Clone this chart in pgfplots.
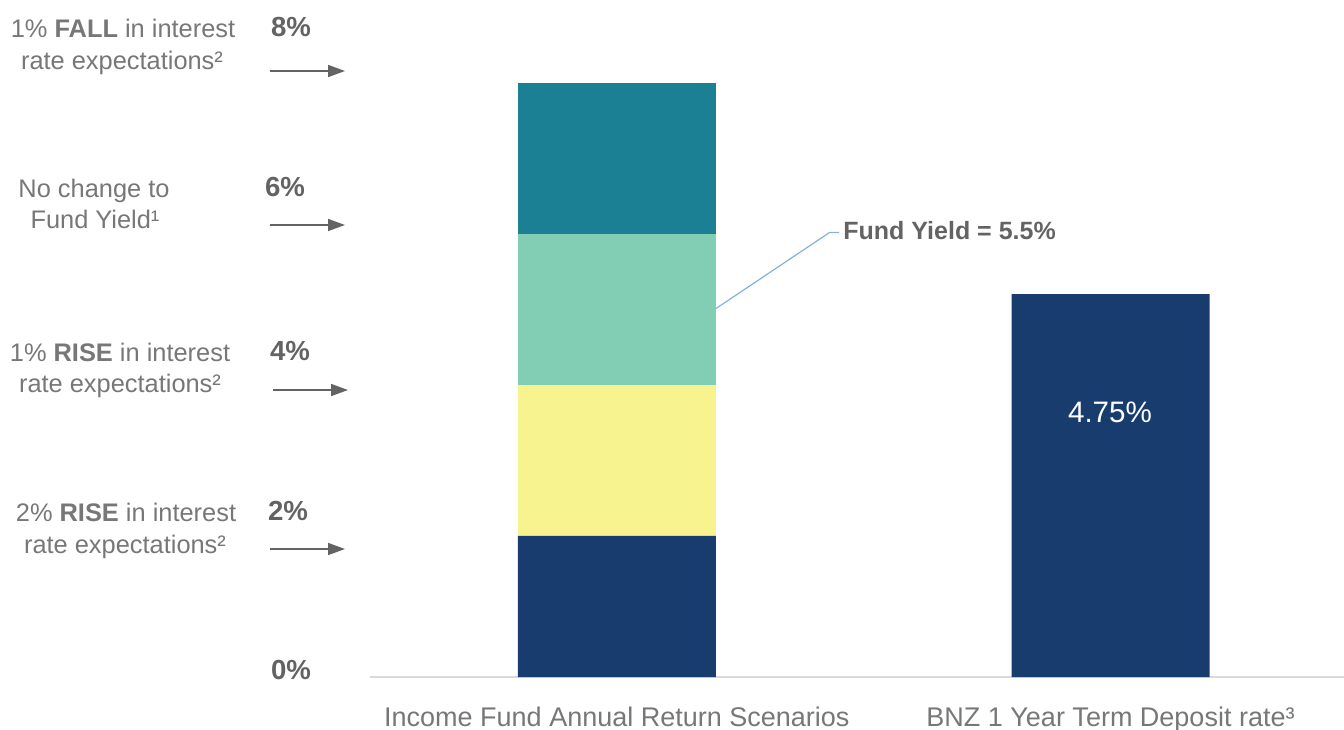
\documentclass[border=0pt]{standalone}
\usepackage{fontspec}
\setmainfont{Liberation Sans}
\usepackage{pgfplots}
\pgfplotsset{compat=1.18}
\usetikzlibrary{arrows.meta}
\definecolor{navy}{HTML}{173C6D}
\definecolor{yel}{HTML}{F7F38F}
\definecolor{mint}{HTML}{82CEB5}
\definecolor{teal2}{HTML}{1B8094}
\definecolor{txt}{HTML}{777777}
\definecolor{pct}{HTML}{636363}
\definecolor{leader}{HTML}{86B0DE}
\newcommand{\lbl}{\fontsize{12.7}{16}\selectfont}
\newcommand{\pctf}{\fontsize{13.8}{16}\selectfont\bfseries}
\begin{document}
\begin{tikzpicture}
\path[use as bounding box] (0,0) rectangle (672pt,-364.5pt);
\begin{axis}[
 at={(185pt,-338.5pt)}, anchor=south west,
 scale only axis, width=487pt, height=338.5pt,
 xmin=-0.5, xmax=1.473, ymin=0, ymax=8.4,
 ybar stacked, bar width=99pt,
 axis y line=none, axis x line*=bottom,
 x axis line style={draw=black!15, line width=1pt},
 xtick={0,1},
 xticklabels={Income Fund Annual Return Scenarios, BNZ 1 Year Term Deposit rate³},
 major tick length=0pt,
 xticklabel style={anchor=base, yshift=-24.5pt, font=\fontsize{13.5}{16}\selectfont, text=txt},
 ytick=\empty,
 clip=false,
]
\addplot[fill=navy, draw=none] coordinates {(0,1.75) (1,4.75)};
\addplot[fill=yel, draw=none] coordinates {(0,1.875) (1,0)};
\addplot[fill=mint, draw=none] coordinates {(0,1.875) (1,0)};
\addplot[fill=teal2, draw=none] coordinates {(0,1.875) (1,0)};
\end{axis}
\begin{scope}[x=0.5pt,y=-0.5pt, every node/.style={inner sep=0pt}]
% block 1
\node[anchor=base, text=txt, font=\lbl] at (123,37.7) {1\% \textbf{FALL} in interest};
\node[anchor=base, text=txt, font=\lbl] at (122,69.3) {rate expectations²};
\node[anchor=base, text=pct, font=\pctf] at (291,36.7) {8\%};
\draw[pct, line width=0.8pt, -{Triangle[length=8.5pt,width=6pt]}] (270,71) -- (345,71);
% block 2
\node[anchor=base, text=txt, font=\lbl] at (94,197.3) {No change to};
\node[anchor=base, text=txt, font=\lbl] at (95,228.3) {Fund Yield¹};
\node[anchor=base, text=pct, font=\pctf] at (285,196) {6\%};
\draw[pct, line width=0.8pt, -{Triangle[length=8.5pt,width=6pt]}] (270,225) -- (345,225);
% block 3
\node[anchor=base, text=txt, font=\lbl] at (120,361) {1\% \textbf{RISE} in interest};
\node[anchor=base, text=txt, font=\lbl] at (120,392) {rate expectations²};
\node[anchor=base, text=pct, font=\pctf] at (290,360) {4\%};
\draw[pct, line width=0.8pt, -{Triangle[length=8.5pt,width=6pt]}] (273,390) -- (348,390);
% block 4
\node[anchor=base, text=txt, font=\lbl] at (126,521) {2\% \textbf{RISE} in interest};
\node[anchor=base, text=txt, font=\lbl] at (125,553) {rate expectations²};
\node[anchor=base, text=pct, font=\pctf] at (288,520) {2\%};
\draw[pct, line width=0.8pt, -{Triangle[length=8.5pt,width=6pt]}] (270,549) -- (345,549);
% 0%
\node[anchor=base, text=pct, font=\pctf] at (291,679) {0\%};
% leader + fund yield
\draw[leader, line width=0.6pt] (716,308.5) -- (829.5,232.5) -- (839,232.5);
\node[anchor=base west, text=pct, font=\bfseries\fontsize{12.5}{15}\selectfont] at (843,239.3) {Fund Yield = 5.5\%};
% 4.75%
\node[anchor=base, text=white, font=\fontsize{14.8}{17}\selectfont] at (1110,422) {4.75\%};
\end{scope}
\end{tikzpicture}
\end{document}
